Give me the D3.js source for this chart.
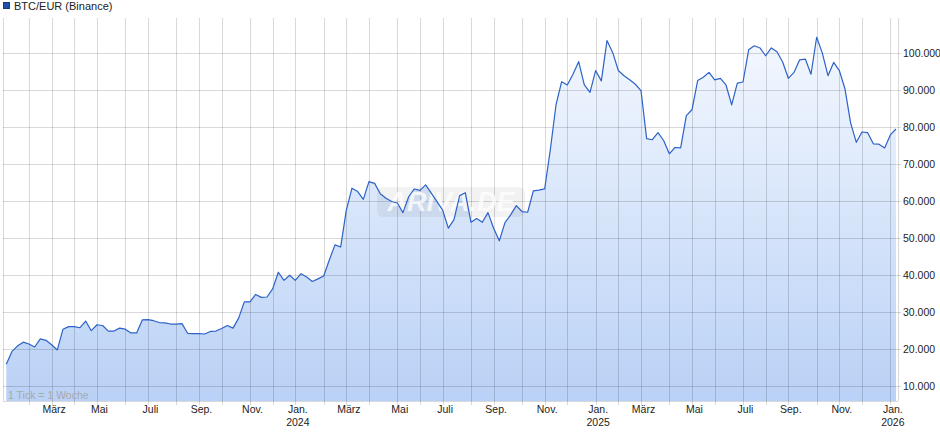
<!DOCTYPE html>
<html>
<head>
<meta charset="utf-8">
<script src="https://cdn.jsdelivr.net/npm/d3@7"></script>
<style>
  html, body { margin: 0; padding: 0; background: #fff; }
  svg { display: block; font-family: "Liberation Sans", Arial, sans-serif; }
</style>
</head>
<body>
<svg id="chart" width="940" height="435"></svg>
<script>
// ---- data (weekly closes, EUR) ----
const startDate = "2023-01-09"; // first weekly point (Monday)
const values = [
  15900, 19400, 20900, 21900, 21400, 20600, 22800, 22400, 21200, 19800,
  25400, 26100, 26100, 25800, 27600, 25000, 26600, 26400, 24900, 24900,
  25700, 25400, 24400, 24400, 27900, 28000, 27700, 27200, 27100, 26800,
  26800, 26900, 24300, 24200, 24200, 24100, 24800, 24900, 25600, 26400,
  25700, 28400, 32800, 32800, 34800, 34000, 34100, 36300, 40800, 38600,
  40000, 38600, 40400, 39500, 38300, 39000, 39800, 44100, 48200, 47600,
  57600, 63500, 62600, 60500, 65300, 64800, 62000, 60800, 59900, 59500,
  56900, 61200, 63300, 62900, 64400, 62200, 59900, 57600, 52700, 55000,
  61500, 62300, 54300, 55300, 54300, 56900, 52700, 49300, 54200, 56300,
  58800, 57200, 57000, 62800, 63000, 63300, 73900, 86000, 92300, 91400,
  94300, 97700, 91400, 89400, 95300, 92500, 103400, 100200, 95300, 93900,
  92800, 91600, 89900, 76900, 76600, 78500, 76400, 72800, 74500, 74400,
  83100, 84700, 92600, 93500, 94800, 92800, 93200, 91400, 86000, 91900,
  92200, 100900, 102000, 101400, 99300, 101400, 100400, 97600, 93200, 94800,
  98200, 98400, 94300, 104300, 100000, 93900, 97500, 95300, 90300, 81100,
  75900, 78700, 78500, 75500, 75400, 74400, 77900, 79500
];
const monthLabels = ["Jan.", "Feb.", "März", "Apr.", "Mai", "Juni", "Juli", "Aug.", "Sep.", "Okt.", "Nov.", "Dez."];
const yTicks = [10000, 20000, 30000, 40000, 50000, 60000, 70000, 80000, 90000, 100000];
const legendLabel = "BTC/EUR (Binance)";
const tickNote = "1 Tick = 1 Woche";
const watermark = "ARIVA.DE";

// ---- build ----
const t0 = new Date(startDate + "T00:00:00Z");
const data = values.map((v, i) => ({ date: d3.utcDay.offset(t0, 7 * i), value: v }));

const svg = d3.select("#chart");
const plot = { left: 3, right: 898, top: 18, bottom: 401 };

const x = d3.scaleUtc()
  .domain([data[0].date, data[data.length - 1].date])
  .range([6.3, 896]);
const y = d3.scaleLinear()
  .domain([6000, 109500])
  .range([plot.bottom, plot.top]);

const fmt = d3.formatLocale({ decimal: ",", thousands: ".", grouping: [3], currency: ["", " €"] }).format(",");

// month ticks: first weekly point of each month
const monthTicks = [];
data.forEach((d, i) => {
  if (i > 0 && d.date.getUTCMonth() !== data[i - 1].date.getUTCMonth()) monthTicks.push(d.date);
});

// gradient
const defs = svg.append("defs");
const grad = defs.append("linearGradient")
  .attr("id", "fillGrad")
  .attr("gradientUnits", "userSpaceOnUse")
  .attr("x1", 0).attr("x2", 0)
  .attr("y1", plot.top).attr("y2", plot.bottom);
grad.append("stop").attr("offset", "0%").attr("stop-color", "#f7faff");
grad.append("stop").attr("offset", "100%").attr("stop-color", "#b9d1f6");

// area
const area = d3.area()
  .x(d => x(d.date))
  .y0(plot.bottom)
  .y1(d => y(d.value));
svg.append("path")
  .datum(data)
  .attr("d", area)
  .attr("fill", "url(#fillGrad)");

// grid lines (drawn over the fill, translucent)
const grid = svg.append("g")
  .attr("stroke", "#000")
  .attr("stroke-opacity", 0.15)
  .attr("shape-rendering", "crispEdges");

grid.selectAll("line.h")
  .data(yTicks)
  .join("line")
  .attr("x1", plot.left).attr("x2", plot.right)
  .attr("y1", d => Math.round(y(d)) + 0.5).attr("y2", d => Math.round(y(d)) + 0.5);

grid.selectAll("line.v")
  .data(monthTicks)
  .join("line")
  .attr("x1", d => Math.round(x(d)) + 0.5).attr("x2", d => Math.round(x(d)) + 0.5)
  .attr("y1", plot.top).attr("y2", plot.bottom + 4);

// borders: left, right, bottom
grid.append("line").attr("x1", plot.left + 0.5).attr("x2", plot.left + 0.5).attr("y1", plot.top).attr("y2", plot.bottom);
grid.append("line").attr("x1", plot.right + 0.5).attr("x2", plot.right + 0.5).attr("y1", plot.top).attr("y2", plot.bottom);
grid.append("line").attr("x1", plot.left).attr("x2", plot.right).attr("y1", plot.bottom + 0.5).attr("y2", plot.bottom + 0.5);
// small right ticks
grid.selectAll("line.rt")
  .data(yTicks)
  .join("line")
  .attr("x1", plot.right).attr("x2", plot.right + 3)
  .attr("y1", d => Math.round(y(d)) + 0.5).attr("y2", d => Math.round(y(d)) + 0.5);

// watermark
const wm = svg.append("g");
wm.append("rect")
  .attr("x", 377).attr("y", 187).attr("width", 148).attr("height", 30).attr("rx", 6)
  .attr("fill", "#000").attr("fill-opacity", 0.05);
wm.append("text")
  .attr("x", 451).attr("y", 211)
  .attr("text-anchor", "middle")
  .attr("font-size", 27).attr("font-weight", "bold").attr("font-style", "italic")
  .attr("fill", "#fff").attr("fill-opacity", 0.75)
  .text(watermark);

// line
const line = d3.line()
  .x(d => x(d.date))
  .y(d => y(d.value));
svg.append("path")
  .datum(data)
  .attr("d", line)
  .attr("fill", "none")
  .attr("stroke", "#2c62c8")
  .attr("stroke-width", 1.2)
  .attr("stroke-linejoin", "round");

// y axis labels (right)
svg.append("g").selectAll("text")
  .data(yTicks)
  .join("text")
  .attr("x", 903)
  .attr("y", d => y(d) + 4)
  .attr("font-size", 10.5)
  .attr("fill", "#222")
  .text(d => fmt(d));

// x axis labels
const xl = svg.append("g").attr("font-size", 10.5).attr("fill", "#222").attr("text-anchor", "middle");
monthTicks.filter(d => d.getUTCMonth() % 2 === 0).forEach(d => {
  const cx = x(d) + 2.5;
  xl.append("text").attr("x", cx).attr("y", 413).text(monthLabels[d.getUTCMonth()]);
  if (d.getUTCMonth() === 0) {
    xl.append("text").attr("x", cx).attr("y", 426).text(d.getUTCFullYear());
  }
});

// tick note
svg.append("text")
  .attr("x", 8).attr("y", 399)
  .attr("font-size", 10.5)
  .attr("fill", "#a8a8a8")
  .text(tickNote);

// legend
svg.append("rect")
  .attr("x", 3.5).attr("y", 2.5).attr("width", 6).attr("height", 6)
  .attr("fill", "#1f4fa8").attr("stroke", "#163a7c");
svg.append("text")
  .attr("x", 14).attr("y", 10)
  .attr("font-size", 11)
  .attr("fill", "#222")
  .text(legendLabel);
</script>
</body>
</html>
